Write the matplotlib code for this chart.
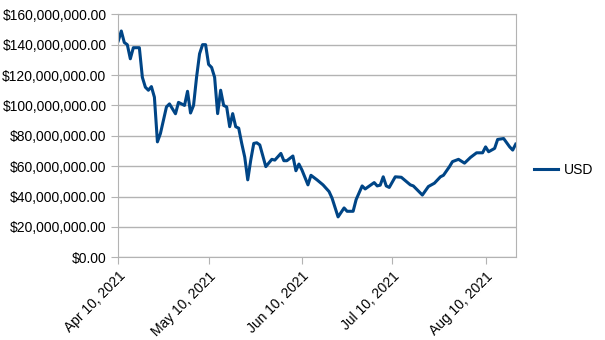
import datetime as dt
import matplotlib.pyplot as plt
import matplotlib.dates as mdates
from matplotlib.ticker import FuncFormatter, MultipleLocator

plt.rcParams['font.family'] = ['Liberation Sans', 'DejaVu Sans']

# day offsets from the first date, and daily value in millions of USD
start = dt.date(2021, 4, 10)
days = [0, 1, 2, 3, 4, 5, 7, 8, 9, 10, 11, 12, 13, 14, 16, 17, 19, 20, 22, 23,
        24, 25, 26, 27, 28, 29, 30, 31, 32, 33, 34, 35, 36, 37, 38, 39, 40, 41,
        42, 43, 44, 45, 46, 47, 49, 51, 52, 54, 55, 56, 58, 59, 60, 61, 63, 64,
        66, 68, 70, 71, 73, 75, 76, 78, 79, 81, 82, 85, 86, 87, 88, 89, 90, 92,
        94, 97, 98, 101, 103, 105, 107, 108, 110, 111, 113, 115, 117, 119, 121,
        122, 123, 125, 126, 128, 130, 131, 132]
usd_m = [142.5, 149, 141.4, 140, 130.7, 138, 138, 118.5, 112, 110, 112.4, 105.4,
         76, 81.5, 99, 101, 94.5, 102, 100, 109.3, 95, 100, 118.5, 134, 140, 140,
         127, 125, 118.5, 94.6, 110, 100, 99, 86, 94.6, 86, 85, 75, 66, 51, 64,
         75, 75.4, 74, 59.7, 64.5, 64, 68.4, 63.6, 63.6, 66.7, 57, 61.4, 57.5,
         47.7, 54, 51, 47.7, 43.3, 39, 26.6, 32.5, 30.3, 30.3, 38, 47, 45, 49.2,
         47, 47.5, 53, 47, 46, 53, 52.7, 47.7, 47, 41, 46.6, 48.8, 53, 54, 59.7,
         63, 64.5, 62, 65.8, 68.8, 68.8, 72.7, 69.5, 71.7, 77.6, 78.2, 72.7,
         70.6, 74.5]

dates = [start + dt.timedelta(days=d) for d in days]
values = [v * 1e6 for v in usd_m]

grid_col = '#b3b3b3'

fig = plt.figure(figsize=(6.05, 3.40), dpi=100)
ax = fig.add_axes([0.1955, 0.2432, 0.6569, 0.7148])

ax.plot(dates, values, color='#004586', linewidth=2.2, label='USD')

ax.set_xlim(dates[0], dates[-1])
ax.set_ylim(0, 160e6)
ax.yaxis.set_major_locator(MultipleLocator(20e6))
ax.yaxis.set_major_formatter(FuncFormatter(lambda v, _: f'${v:,.2f}'))
ax.xaxis.set_major_locator(mdates.DayLocator(bymonthday=10))
ax.xaxis.set_major_formatter(mdates.DateFormatter('%b %d, %Y'))

ax.grid(axis='y', color=grid_col, linewidth=1)
ax.set_axisbelow(True)
for s in ax.spines.values():
    s.set_color(grid_col)
ax.tick_params(axis='both', colors=grid_col, labelcolor='black',
               labelsize=10, length=5, direction='out')
plt.setp(ax.get_xticklabels(), rotation=45, ha='right',
         rotation_mode='anchor')

fig.legend(loc='center left', bbox_to_anchor=(0.862, 0.5), frameon=False,
           handlelength=1.7, handletextpad=0.45, fontsize=10)

fig.savefig('out.png', dpi=100)
